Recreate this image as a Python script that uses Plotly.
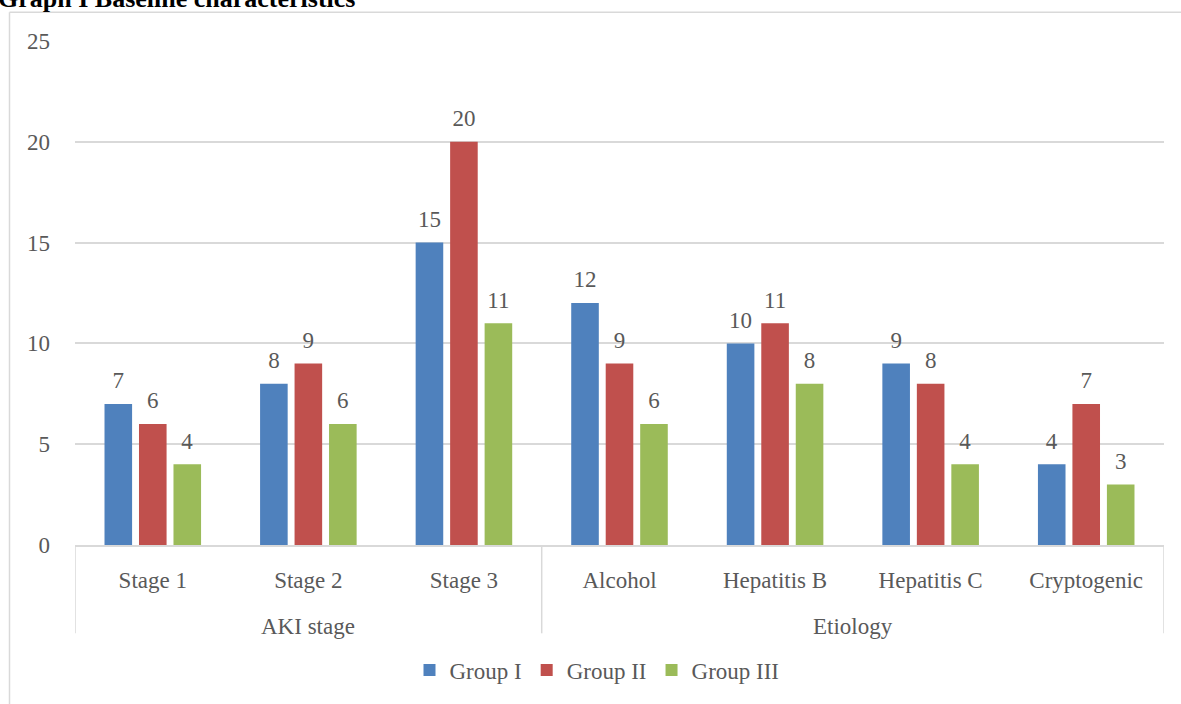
import plotly.graph_objects as go

groups_lvl = ["AKI stage", "AKI stage", "AKI stage", "Etiology", "Etiology", "Etiology", "Etiology"]
categories = ["Stage 1", "Stage 2", "Stage 3", "Alcohol", "Hepatitis B", "Hepatitis C", "Cryptogenic"]
group_i = [7, 8, 15, 12, 10, 9, 4]
group_ii = [6, 9, 20, 9, 11, 8, 7]
group_iii = [4, 6, 11, 6, 8, 4, 3]
series = [("Group I", group_i, "#4F81BD"), ("Group II", group_ii, "#C0504D"), ("Group III", group_iii, "#9BBB59")]

FONT = "Liberation Serif"
GRAY = "#595959"
LINE = "#D9D9D9"
LABEL_LIFT = 0.38  # data-label gap above bar (axis units)

W, H = 1181, 704
L, R, T, B = 75, 17, 41, 155
PW, PH = W - L - R, H - T - B

def px(x):
    return (x - L) / PW

def py(y):
    return (H - B - y) / PH

fig = go.Figure()
for k, (name, vals, color) in enumerate(series):
    fig.add_trace(go.Bar(
        x=categories, y=vals, name=name, offsetgroup=str(k),
        marker=dict(color=color, line=dict(width=0)),
    ))
    # invisible spacer carrying the data label above each bar
    fig.add_trace(go.Bar(
        x=categories, y=[LABEL_LIFT] * len(vals), base=vals, offsetgroup=str(k),
        marker=dict(color="rgba(0,0,0,0)", line=dict(width=0)),
        text=vals, textposition="outside",
        textfont=dict(family=FONT, size=23, color=GRAY),
        cliponaxis=False, showlegend=False, hoverinfo="skip",
    ))

# group spans (top-level category labels and dividers)
spans = []
for i, g in enumerate(groups_lvl):
    if spans and spans[-1][0] == g:
        spans[-1][2] = i
    else:
        spans.append([g, i, i])

shapes = [
    dict(type="line", xref="paper", yref="paper", x0=px(9.5), x1=px(9.5), y0=py(12), y1=py(710),
         line=dict(color=LINE, width=1.5)),
    dict(type="line", xref="paper", yref="paper", x0=px(9.5), x1=px(1190), y0=py(12), y1=py(12),
         line=dict(color=LINE, width=1.5)),
]
annotations = [
    dict(text="<b>Graph I Baseline characteristics</b>", xref="paper", yref="paper",
         x=px(-4), xanchor="left", y=py(-2), yanchor="middle", showarrow=False,
         font=dict(family=FONT, size=26, color="black")),
]
edges = sorted({s[1] - 0.5 for s in spans} | {s[2] + 0.5 for s in spans})
for e in edges:
    shapes.append(dict(type="line", xref="x", yref="paper", x0=e, x1=e, y0=0, y1=py(638),
                       line=dict(color=LINE, width=1.5)))
for g, a, b in spans:
    annotations.append(dict(text=g, xref="x", yref="paper", x=(a + b) / 2, y=py(631),
                            yanchor="middle", showarrow=False,
                            font=dict(family=FONT, size=23, color=GRAY)))

fig.update_layout(
    width=W, height=H,
    margin=dict(l=L, r=R, t=T, b=B),
    paper_bgcolor="white", plot_bgcolor="white",
    barmode="group", bargap=0.335, bargroupgap=0.2,
    font=dict(family=FONT, size=23, color=GRAY),
    showlegend=True,
    legend=dict(orientation="h", x=px(597), xanchor="center", y=py(675), yanchor="middle",
                font=dict(family=FONT, size=23, color=GRAY), itemwidth=30, tracegroupgap=0),
    xaxis=dict(type="category", showline=True, linecolor=LINE, linewidth=1.5,
               ticks="", ticklabelstandoff=14, range=[-0.5, 6.5],
               tickfont=dict(family=FONT, size=23, color=GRAY), showgrid=False),
    yaxis=dict(range=[0, 25], dtick=5, showgrid=True, gridcolor=LINE, gridwidth=1.5,
               zeroline=False, showline=False, ticks="", ticklabelstandoff=24,
               tickfont=dict(family=FONT, size=23, color=GRAY)),
    shapes=shapes,
    annotations=annotations,
)

fig.write_html("out.html")
